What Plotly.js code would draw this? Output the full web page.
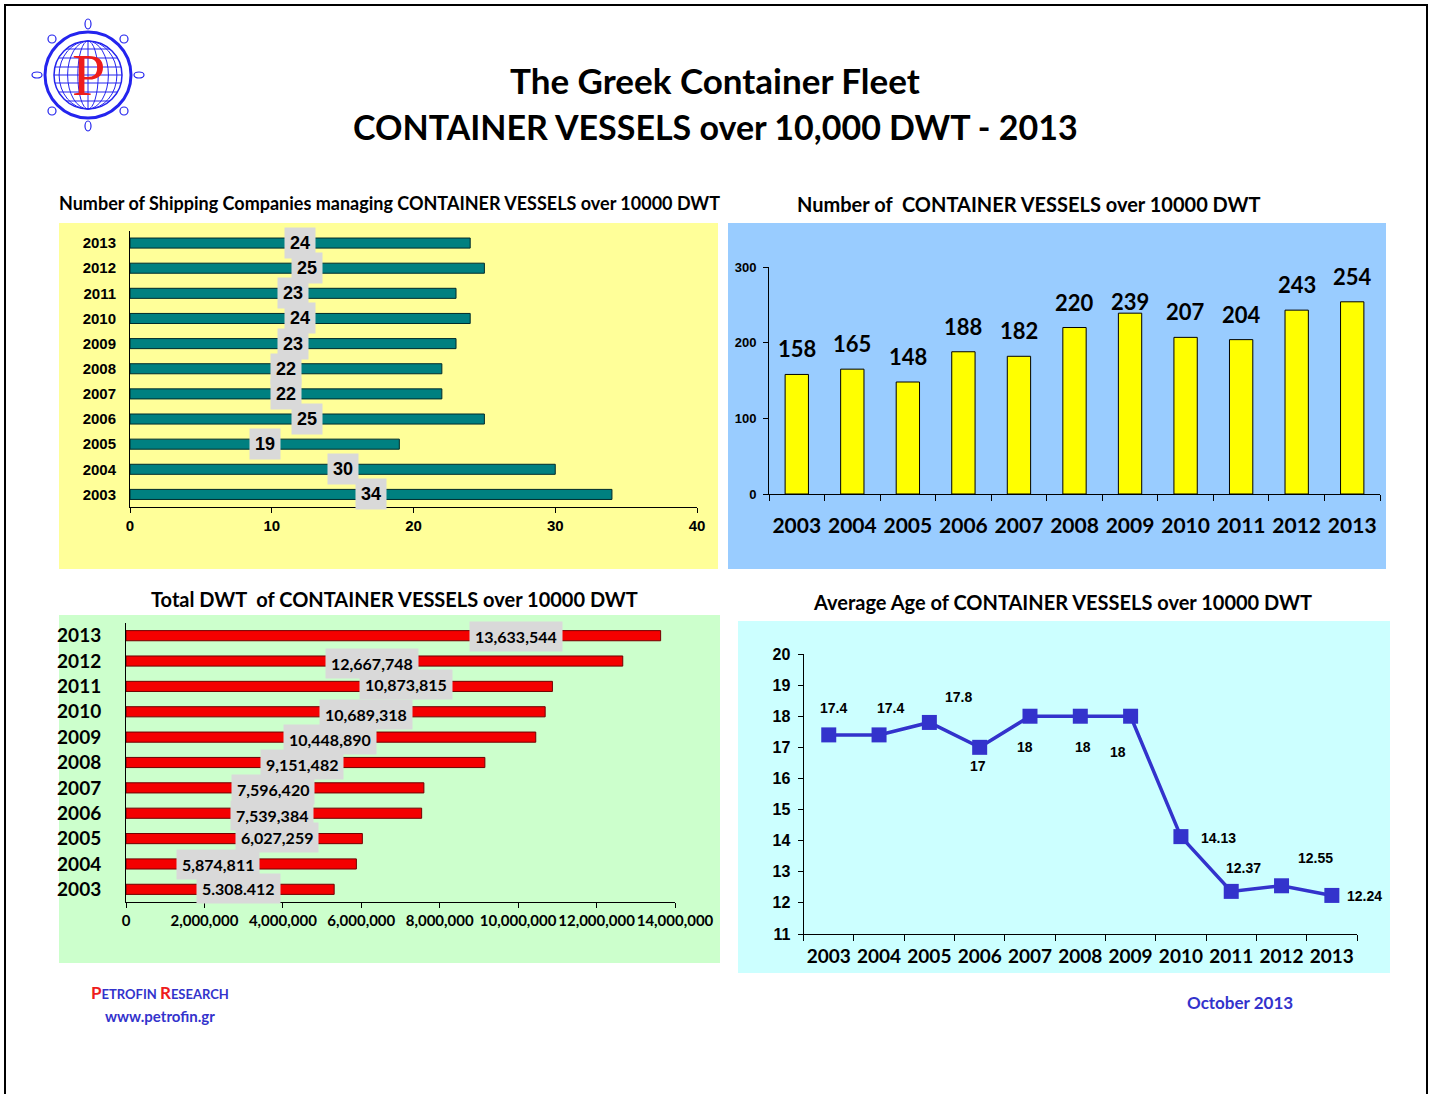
<!DOCTYPE html>
<html><head><meta charset="utf-8">
<script src="https://cdn.plot.ly/plotly-3.0.1.min.js"></script>
<style>html,body{margin:0;padding:0;background:#fff}</style>
</head><body><div id="chart" style="width:1434px;height:1094px"></div>
<script>
// ---------- DATA ----------
const years = ['2003','2004','2005','2006','2007','2008','2009','2010','2011','2012','2013'];
const companies = [34, 30, 19, 25, 22, 22, 23, 24, 23, 25, 24];
const vessels = [158, 165, 148, 188, 182, 220, 239, 207, 204, 243, 254];
const totalDwt = [5308412, 5874811, 6027259, 7539384, 7596420, 9151482, 10448890, 10689318, 10873815, 12667748, 13633544];
const dwtLabels = ['5.308.412','5,874,811','6,027,259','7,539,384','7,596,420','9,151,482','10,448,890','10,689,318','10,873,815','12,667,748','13,633,544'];
const avgAge = [17.4, 17.4, 17.8, 17, 18, 18, 18, 14.13, 12.37, 12.55, 12.24];
const ageLabels = ['17.4','17.4','17.8','17','18','18','18','14.13','12.37','12.55','12.24'];

// ---------- LAYOUT HELPERS ----------
const W = 1434, H = 1094;
const X = p => p / W;
const Y = p => 1 - p / H;
const CAL = 'Lato, "Open Sans", sans-serif';
const NAR = '"Liberation Sans Narrow", "Liberation Sans", Arial, sans-serif';
const ARI = '"Liberation Sans", Arial, sans-serif';
const BLUE = '#3333CC';

// label placement (style only)
const dwtLabelX = [2.88e6, 2.34e6, 3.85e6, 3.73e6, 3.75e6, 4.49e6, 5.2e6, 6.12e6, 7.14e6, 6.27e6, 9.95e6];
const dwtLabelDy = [1, -1, 1, -2, -2, -2, -2, -3, 2, -2, -1];
const vesselLabelDy = [0, 0, 0, 0, 0, 0, -14, 0, 0, 0, 0];
const ageLabelShift = [[5,-27],[11,-27],[29,-25],[-2,19],[-5,31],[3,31],[-13,36],[38,1],[12,-23],[34,-28],[33,1]];

const traces = [
  {type:'bar', orientation:'h', x:companies, y:years, xaxis:'x', yaxis:'y', width:0.4,
   marker:{color:'#008080', line:{color:'#002b2b', width:1}}, hoverinfo:'skip'},
  {type:'bar', x:years, y:vessels, xaxis:'x2', yaxis:'y2', width:0.42,
   marker:{color:'#FFFF00', line:{color:'#000', width:1}}, hoverinfo:'skip'},
  {type:'bar', orientation:'h', x:totalDwt, y:years, xaxis:'x3', yaxis:'y3', width:0.4,
   marker:{color:'#F40000', line:{color:'#700000', width:1}}, hoverinfo:'skip'},
  {type:'scatter', mode:'lines+markers', x:years, y:avgAge, xaxis:'x4', yaxis:'y4',
   line:{color:BLUE, width:3.5}, marker:{symbol:'square', size:15, color:BLUE}, cliponaxis:false, hoverinfo:'skip'}
];

const annotations = [];
function txt(x, y, text, size, opts) {
  annotations.push(Object.assign({xref:'paper', yref:'paper', x:X(x), y:Y(y), text:text, showarrow:false,
    xanchor:'center', yanchor:'middle', font:{family:CAL, size:size, color:'#000', weight:'bold'}}, opts || {}));
}
txt(715, 80, 'The Greek Container Fleet', 35);
txt(715, 126, 'CONTAINER VESSELS over 10,000 DWT - 2013', 34);
txt(389, 203, 'Number of Shipping Companies managing CONTAINER VESSELS over 10000 DWT', 18);
txt(1029, 204, 'Number of&nbsp; CONTAINER VESSELS over 10000 DWT', 20);
txt(394, 599, 'Total DWT&nbsp; of CONTAINER VESSELS over 10000 DWT', 20);
txt(1062, 602, 'Average Age of CONTAINER VESSELS over 10000 DWT', 20);
txt(160, 992, '<span style="color:#ee1c1c;font-size:17px">P</span>ETROFIN <span style="color:#ee1c1c;font-size:17px">R</span>ESEARCH', 13, {font:{family:CAL, size:13, color:BLUE, weight:'bold'}});
txt(160, 1016, 'www.petrofin.gr', 15, {font:{family:CAL, size:15, color:BLUE, weight:'bold'}});
txt(1240, 1002, 'October 2013', 17, {font:{family:CAL, size:17, color:BLUE, weight:'bold'}});
txt(88, 75, 'P', 60, {font:{family:'"Liberation Serif", "DejaVu Serif", serif', size:60, color:'#ee1c1c'}});

years.forEach((yr, i) => {
  annotations.push({xref:'x', yref:'y', x:companies[i]/2, y:i, text:String(companies[i]), showarrow:false,
    xanchor:'center', yanchor:'middle', bgcolor:'#D9D9D9', borderpad:5,
    font:{family:NAR, size:18, color:'#000', weight:'bold'}});
  annotations.push({xref:'x2', yref:'y2', x:i, y:vessels[i], text:String(vessels[i]), showarrow:false,
    xanchor:'center', yanchor:'bottom', yshift:10 + vesselLabelDy[i], font:{family:CAL, size:22, color:'#000', weight:'bold'}});
  annotations.push({xref:'x3', yref:'y3', x:dwtLabelX[i], y:i, text:dwtLabels[i], showarrow:false,
    xanchor:'center', yanchor:'middle', yshift:dwtLabelDy[i], bgcolor:'#D9D9D9', borderpad:5,
    font:{family:CAL, size:16, color:'#000', weight:'bold'}});
  annotations.push({xref:'x4', yref:'y4', x:i, y:avgAge[i], text:ageLabels[i], showarrow:false,
    xanchor:'center', yanchor:'middle', xshift:ageLabelShift[i][0], yshift:-ageLabelShift[i][1],
    font:{family:ARI, size:14, color:'#000', weight:'bold'}});
});

// ---------- SHAPES ----------
const shapes = [];
function rect(x0, y0, x1, y1, fill) {
  shapes.push({type:'rect', xref:'paper', yref:'paper', x0:X(x0), x1:X(x1), y0:Y(y1), y1:Y(y0),
    fillcolor:fill, line:{width:0}, layer:'below'});
}
rect(59, 223, 718, 569, '#FFFF99');
rect(728, 223, 1386, 569, '#99CCFF');
rect(59, 615, 720, 963, '#CCFFCC');
rect(738, 621, 1390, 973, '#CCFFFF');
// frame
shapes.push({type:'path', xref:'paper', yref:'paper', layer:'above',
  path:`M ${X(5)},${Y(1094)} L ${X(5)},${Y(5)} L ${X(1427)},${Y(5)} L ${X(1427)},${Y(1094)}`,
  line:{color:'#000', width:2}});
// logo
const cx = 88, cy = 75, LB = '#2424ee';
function ell(x, y, rx, ry, w) {
  shapes.push({type:'circle', xref:'paper', yref:'paper', x0:X(x-rx), x1:X(x+rx), y0:Y(y+ry), y1:Y(y-ry),
    line:{color:LB, width:w}, layer:'above'});
}
ell(cx, cy, 43, 43, 3);
ell(cx, cy, 34, 34, 1.5);
[0.3, 0.6, 0.85].forEach(k => ell(cx, cy, 34*k, 34, 1));
[-26,-17,-8,0,8,17,26].forEach(d => {
  const hw = Math.sqrt(34*34 - d*d);
  shapes.push({type:'line', xref:'paper', yref:'paper', x0:X(cx-hw), x1:X(cx+hw), y0:Y(cy+d), y1:Y(cy+d),
    line:{color:LB, width:1}, layer:'above'});
});
shapes.push({type:'line', xref:'paper', yref:'paper', x0:X(cx), x1:X(cx), y0:Y(cy-34), y1:Y(cy+34), line:{color:LB, width:1}, layer:'above'});
ell(cx, cy-51, 3, 5, 1.2); ell(cx, cy+51, 3, 5, 1.2);
ell(cx-51, cy, 5, 3, 1.2); ell(cx+51, cy, 5, 3, 1.2);
[[-1,-1],[1,-1],[-1,1],[1,1]].forEach(([sx, sy]) => ell(cx+sx*36, cy+sy*36, 4, 4, 1.2));

const tickBold = (fam, size) => ({family:fam, size:size, color:'#000', weight:'bold'});
const layout = {
  width:W, height:H, autosize:false, margin:{l:0, r:0, t:0, b:0},
  paper_bgcolor:'#fff', plot_bgcolor:'rgba(0,0,0,0)', showlegend:false, barmode:'group',
  font:{family:CAL, color:'#000'},
  xaxis:{domain:[X(130), X(697)], range:[0,40], dtick:10, anchor:'y', showgrid:false, zeroline:false, tickangle:0,
    showline:true, linecolor:'#000', ticks:'outside', ticklen:5, tickcolor:'#000', tickfont:tickBold(NAR, 15), fixedrange:true},
  yaxis:{domain:[Y(507), Y(230.5)], type:'category', range:[-0.5,10.5], anchor:'x', showgrid:false, zeroline:false,
    showline:true, linecolor:'#000', ticks:'', ticklabelstandoff:10, tickfont:tickBold(NAR, 15), fixedrange:true},
  xaxis2:{domain:[X(769), X(1380)], type:'category', range:[-0.5,10.5], anchor:'y2', showgrid:false, zeroline:false, tickangle:0,
    showline:true, linecolor:'#000', ticks:'outside', tickson:'boundaries', ticklen:6, tickcolor:'#000',
    ticklabelstandoff:13, tickfont:tickBold(CAL, 21), fixedrange:true},
  yaxis2:{domain:[Y(494), Y(267)], range:[0,300], dtick:100, anchor:'x2', showgrid:false, zeroline:false,
    showline:true, linecolor:'#000', ticks:'outside', ticklen:5, tickcolor:'#000', ticklabelstandoff:4,
    tickfont:tickBold(NAR, 13), fixedrange:true},
  xaxis3:{domain:[X(126), X(675)], range:[0,14e6], dtick:2e6, tickformat:',', anchor:'y3', showgrid:false, zeroline:false, tickangle:0,
    showline:true, linecolor:'#000', ticks:'outside', ticklen:5, tickcolor:'#000', tickfont:tickBold(CAL, 15), fixedrange:true},
  yaxis3:{domain:[Y(902), Y(623)], type:'category', range:[-0.5,10.5], anchor:'x3', showgrid:false, zeroline:false,
    showline:true, linecolor:'#000', ticks:'', ticklabelstandoff:20, tickfont:tickBold(CAL, 19), fixedrange:true},
  xaxis4:{domain:[X(803.6), X(1357)], type:'category', range:[-0.5,10.5], anchor:'y4', showgrid:false, zeroline:false, tickangle:0,
    showline:true, linecolor:'#000', ticks:'outside', tickson:'boundaries', ticklen:6, tickcolor:'#000',
    ticklabelstandoff:5, tickfont:tickBold(CAL, 19), fixedrange:true},
  yaxis4:{domain:[Y(934), Y(654)], range:[11,20], dtick:1, anchor:'x4', showgrid:false, zeroline:false,
    showline:true, linecolor:'#000', ticks:'outside', ticklen:5, tickcolor:'#000', ticklabelstandoff:4,
    tickfont:tickBold(ARI, 16), fixedrange:true},
  annotations:annotations, shapes:shapes
};
Plotly.newPlot('chart', traces, layout, {staticPlot:true, displayModeBar:false});
</script></body></html>
